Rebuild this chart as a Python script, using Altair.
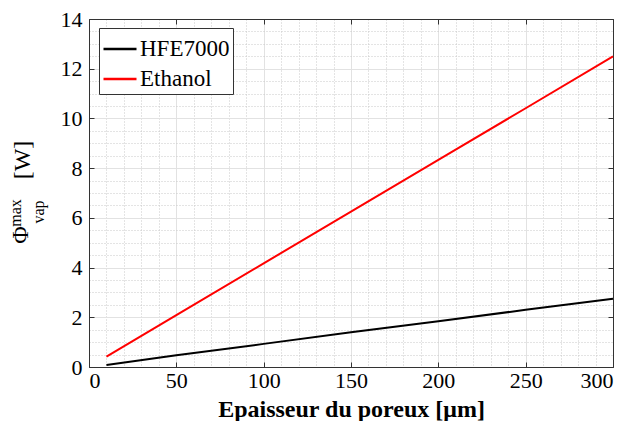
import altair as alt
import pandas as pd

x_vals = [10, 50, 100, 150, 200, 250, 300]
hfe7000 = [0.08, 0.47, 0.93, 1.40, 1.84, 2.30, 2.75]
ethanol = [0.42, 2.09, 4.17, 6.25, 8.33, 10.41, 12.5]
series_names = ["HFE7000", "Ethanol"]
series_colors = ["#000000", "#ff0000"]

x_major = [0, 50, 100, 150, 200, 250, 300]
y_major = [0, 2, 4, 6, 8, 10, 12, 14]
x_minor = list(range(0, 301, 10))
y_minor = [i * 0.5 for i in range(0, 29)]

rows = []
for xv, a, b in zip(x_vals, hfe7000, ethanol):
    rows.append({"x": xv, "y": a, "s": "HFE7000"})
    rows.append({"x": xv, "y": b, "s": "Ethanol"})
df = pd.DataFrame(rows)

FONT = "Liberation Serif"
W, H = 524, 348
xs = alt.Scale(domain=[0, 300], nice=False, zero=False)
ys = alt.Scale(domain=[0, 14], nice=False, zero=False)

base = alt.Chart(df)

def helper(xaxis, yaxis):
    return base.mark_line(opacity=0).encode(
        x=alt.X("x:Q", scale=xs, axis=xaxis),
        y=alt.Y("y:Q", scale=ys, axis=yaxis),
        detail="s:N",
    )

minor = helper(
    alt.Axis(orient="bottom", values=x_minor, grid=True, gridDash=[1, 2], gridColor="#c8c8c8",
             labels=False, ticks=False, domain=False, title=None),
    alt.Axis(orient="left", values=y_minor, grid=True, gridDash=[1, 2], gridColor="#c8c8c8",
             labels=False, ticks=False, domain=False, title=None),
)

major = helper(
    alt.Axis(orient="bottom", values=x_major, grid=True, gridColor="#e2e2e2", ticks=False,
             domain=True, domainColor="#333333", labelFont=FONT, labelFontSize=22, labelPadding=3,
             title="Epaisseur du poreux [μm]", titleFont=FONT, titleFontSize=24,
             titlePadding=6),
    alt.Axis(orient="left", values=y_major, grid=True, gridColor="#e2e2e2", ticks=False,
             domain=True, domainColor="#333333", labelFont=FONT, labelFontSize=22, labelPadding=7,
             title=None),
)

ticks_bl = helper(
    alt.Axis(orient="bottom", values=x_major, grid=False, labels=False, domain=False, ticks=True,
             tickSize=5, tickColor="#333333", offset=-5, title=None),
    alt.Axis(orient="left", values=y_major, grid=False, labels=False, domain=False, ticks=True,
             tickSize=5, tickColor="#333333", offset=-5, title=None),
)

ticks_tr = helper(
    alt.Axis(orient="top", values=x_major, grid=False, labels=False, domain=False, ticks=True,
             tickSize=5, tickColor="#333333", offset=-5, title=None),
    alt.Axis(orient="right", values=y_major, grid=False, labels=False, domain=False, ticks=True,
             tickSize=5, tickColor="#333333", offset=-5, title=None),
)

frame_tr = helper(
    alt.Axis(orient="top", values=x_major, grid=False, labels=False, domain=True,
             domainColor="#333333", ticks=False, title=None),
    alt.Axis(orient="right", values=y_major, grid=False, labels=False, domain=True,
             domainColor="#333333", ticks=False, title=None),
)

lines = base.mark_line(strokeWidth=2).encode(
    x=alt.X("x:Q", scale=xs, axis=None),
    y=alt.Y("y:Q", scale=ys, axis=None),
    color=alt.Color(
        "s:N",
        scale=alt.Scale(domain=series_names, range=series_colors),
        sort=series_names,
        legend=alt.Legend(
            title=None, orient="none", legendX=10, legendY=9,
            symbolType="stroke", symbolSize=1089, symbolStrokeWidth=2.5,
            labelFont=FONT, labelFontSize=23, labelOffset=2,
            fillColor="white", strokeColor="#333333", padding=3, rowPadding=-5,
        ),
    ),
)

def lbl(text, dx, dy, size):
    return alt.Chart(pd.DataFrame({"t": [text]})).mark_text(
        font=FONT, fontSize=size, angle=270, align="center", baseline="middle"
    ).encode(text="t:N", x=alt.value(dx), y=alt.value(dy))

ytitle = lbl("Φ", -68, 216, 24) + lbl("max", -73, 194, 16) + lbl("vap", -50, 193, 16) + lbl("[W]", -66, 141, 24)

chart = alt.layer(minor, major, ticks_bl, ticks_tr, frame_tr, lines, ytitle).resolve_axis(
    x="independent", y="independent"
).properties(
    width=W, height=H,
    padding={"left": 0, "top": 0, "right": 0, "bottom": 0},
)

chart.save("out.html", embed_options={"renderer": "svg", "actions": False})
